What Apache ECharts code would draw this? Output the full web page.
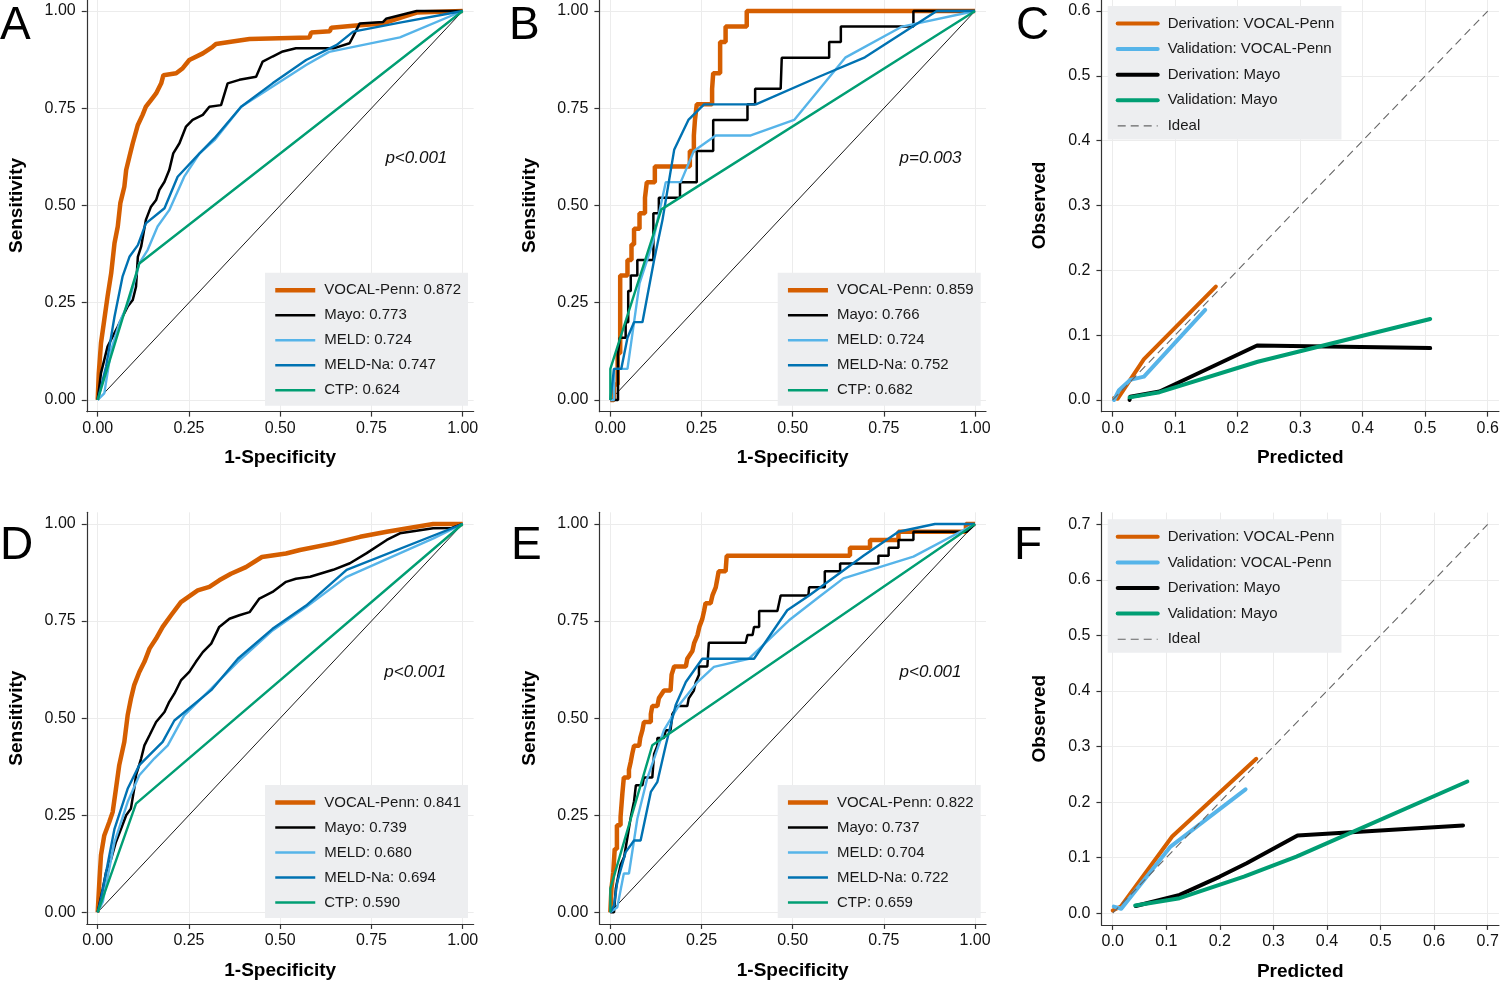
<!DOCTYPE html>
<html>
<head>
<meta charset="utf-8">
<script src="https://cdn.jsdelivr.net/npm/echarts@6/dist/echarts.min.js"></script>
<style>html,body{margin:0;padding:0;background:#fff}#c{width:1500px;height:981px}</style>
</head>
<body>
<div id="c"></div>
<script>
// ---------------- DATA ----------------
const rocTicks = [0, 0.25, 0.5, 0.75, 1];
const calTicksC = [0, 0.1, 0.2, 0.3, 0.4, 0.5, 0.6];
const calTicksF = [0, 0.1, 0.2, 0.3, 0.4, 0.5, 0.6, 0.7];
const panelLetters = ['A', 'B', 'C', 'D', 'E', 'F'];
const rocModels = ['VOCAL-Penn', 'Mayo', 'MELD', 'MELD-Na', 'CTP'];
const aucA = ['0.872', '0.773', '0.724', '0.747', '0.624'];
const aucB = ['0.859', '0.766', '0.724', '0.752', '0.682'];
const aucD = ['0.841', '0.739', '0.680', '0.694', '0.590'];
const aucE = ['0.822', '0.737', '0.704', '0.722', '0.659'];
const pTexts = ['p<0.001', 'p=0.003', 'p<0.001', 'p<0.001'];
const pPos = [[0.873, 0.622], [0.878, 0.621], [0.87, 0.618], [0.878, 0.618]];
const calNames = ['Derivation: VOCAL-Penn', 'Validation: VOCAL-Penn', 'Derivation: Mayo', 'Validation: Mayo', 'Ideal'];
const diagonal = [[0, 0], [1, 1]];

// Panel A
const A_vocal = [[0,0],[0.003,0.069],[0.009,0.146],[0.018,0.206],[0.027,0.266],[0.037,0.326],[0.046,0.403],[0.055,0.446],[0.062,0.506],[0.073,0.548],[0.078,0.591],[0.087,0.626],[0.096,0.66],[0.11,0.707],[0.123,0.733],[0.132,0.754],[0.146,0.771],[0.16,0.788],[0.174,0.814],[0.18,0.835],[0.215,0.84],[0.233,0.853],[0.251,0.874],[0.288,0.891],[0.315,0.908],[0.324,0.915],[0.365,0.921],[0.416,0.928],[0.58,0.932],[0.585,0.945],[0.636,0.948],[0.64,0.957],[0.70,0.962],[0.782,0.968],[0.837,0.985],[0.874,0.996],[1,1]];
const A_mayo = [[0,0],[0.009,0.069],[0.027,0.137],[0.041,0.163],[0.055,0.189],[0.068,0.214],[0.082,0.24],[0.096,0.257],[0.105,0.291],[0.11,0.368],[0.119,0.394],[0.132,0.463],[0.146,0.497],[0.16,0.514],[0.169,0.54],[0.183,0.561],[0.196,0.591],[0.207,0.634],[0.224,0.66],[0.242,0.703],[0.26,0.72],[0.288,0.733],[0.306,0.754],[0.338,0.758],[0.356,0.814],[0.388,0.823],[0.434,0.831],[0.452,0.87],[0.479,0.883],[0.507,0.896],[0.543,0.904],[0.646,0.904],[0.69,0.917],[0.718,0.968],[0.782,0.972],[0.79,0.98],[0.874,1],[1,1]];
const A_meld = [[0,0],[0.018,0.017],[0.037,0.129],[0.059,0.197],[0.087,0.257],[0.114,0.351],[0.137,0.386],[0.164,0.446],[0.196,0.488],[0.237,0.574],[0.279,0.634],[0.32,0.668],[0.393,0.754],[0.571,0.861],[0.634,0.895],[0.828,0.932],[1,1]];
const A_meldna = [[0,0],[0.023,0.086],[0.046,0.214],[0.068,0.317],[0.087,0.368],[0.11,0.398],[0.132,0.454],[0.183,0.493],[0.219,0.574],[0.279,0.634],[0.32,0.673],[0.393,0.754],[0.479,0.814],[0.571,0.874],[0.655,0.913],[0.7,0.947],[0.828,0.97],[1,1]];
const A_ctp = [[0,0],[0.114,0.351],[1,1]];

// Panel B
const B_vocal = [[0,0],[0.01,0],[0.01,0.04],[0.02,0.04],[0.02,0.12],[0.027,0.12],[0.027,0.32],[0.047,0.32],[0.047,0.36],[0.058,0.36],[0.058,0.40],[0.065,0.40],[0.065,0.44],[0.08,0.44],[0.08,0.48],[0.095,0.48],[0.095,0.52],[0.1,0.52],[0.1,0.56],[0.122,0.56],[0.122,0.60],[0.218,0.60],[0.218,0.64],[0.229,0.64],[0.229,0.68],[0.232,0.68],[0.232,0.72],[0.237,0.72],[0.237,0.76],[0.279,0.76],[0.279,0.80],[0.282,0.80],[0.282,0.84],[0.301,0.84],[0.301,0.92],[0.316,0.92],[0.316,0.96],[0.374,0.96],[0.374,1.0],[1,1]];
const B_mayo = [[0,0],[0.021,0],[0.021,0.12],[0.026,0.12],[0.026,0.16],[0.042,0.16],[0.042,0.2],[0.049,0.2],[0.049,0.28],[0.056,0.28],[0.056,0.32],[0.074,0.32],[0.074,0.36],[0.118,0.36],[0.118,0.48],[0.133,0.48],[0.133,0.52],[0.191,0.52],[0.191,0.56],[0.237,0.56],[0.237,0.64],[0.282,0.64],[0.282,0.72],[0.376,0.72],[0.376,0.76],[0.397,0.76],[0.397,0.8],[0.467,0.8],[0.47,0.88],[0.6,0.88],[0.6,0.92],[0.632,0.92],[0.632,0.96],[0.831,0.96],[0.831,1],[1,1]];
const B_meld = [[0,0],[0.01,0],[0.01,0.08],[0.047,0.08],[0.065,0.2],[0.08,0.3],[0.115,0.4],[0.152,0.56],[0.193,0.56],[0.229,0.64],[0.289,0.68],[0.385,0.68],[0.504,0.72],[0.644,0.88],[0.8,0.96],[1,1]];
const B_meldna = [[0,0],[0.01,0.08],[0.03,0.08],[0.047,0.16],[0.065,0.2],[0.088,0.2],[0.12,0.36],[0.143,0.463],[0.175,0.643],[0.214,0.72],[0.257,0.76],[0.399,0.76],[0.572,0.831],[0.698,0.881],[0.895,1],[1,1]];
const B_ctp = [[0,0],[0,0.08],[0.14,0.49],[1,1]];

// Panel D
const D_vocal = [[0,0],[0.005,0.087],[0.009,0.147],[0.018,0.198],[0.032,0.233],[0.041,0.258],[0.05,0.318],[0.059,0.379],[0.073,0.439],[0.082,0.507],[0.091,0.55],[0.1,0.585],[0.114,0.619],[0.128,0.645],[0.142,0.679],[0.16,0.705],[0.178,0.735],[0.201,0.765],[0.228,0.799],[0.274,0.829],[0.306,0.838],[0.333,0.855],[0.365,0.872],[0.406,0.889],[0.45,0.915],[0.516,0.924],[0.554,0.933],[0.645,0.95],[0.719,0.967],[0.792,0.98],[0.919,1],[1,1]];
const D_mayo = [[0,0],[0.014,0.061],[0.023,0.104],[0.037,0.138],[0.05,0.181],[0.064,0.215],[0.078,0.25],[0.091,0.267],[0.1,0.318],[0.105,0.353],[0.119,0.396],[0.128,0.43],[0.142,0.456],[0.16,0.49],[0.183,0.516],[0.196,0.542],[0.21,0.563],[0.228,0.597],[0.251,0.619],[0.269,0.645],[0.288,0.67],[0.311,0.692],[0.333,0.735],[0.361,0.756],[0.388,0.765],[0.416,0.773],[0.443,0.808],[0.479,0.825],[0.516,0.851],[0.543,0.859],[0.582,0.864],[0.645,0.882],[0.691,0.899],[0.737,0.925],[0.792,0.959],[0.828,0.976],[0.919,0.989],[0.97,0.99],[1,1]];
const D_meld = [[0,0],[0.014,0.027],[0.046,0.181],[0.082,0.284],[0.114,0.353],[0.155,0.396],[0.192,0.43],[0.237,0.507],[0.311,0.576],[0.384,0.645],[0.479,0.726],[0.571,0.786],[0.682,0.864],[0.92,0.963],[1,1]];
const D_meldna = [[0,0],[0.009,0.035],[0.046,0.215],[0.082,0.318],[0.114,0.379],[0.178,0.439],[0.21,0.494],[0.311,0.572],[0.384,0.653],[0.479,0.73],[0.571,0.79],[0.682,0.882],[1,1]];
const D_ctp = [[0,0],[0.105,0.28],[1,1]];

// Panel E
const E_vocal = [[0,0],[0.003,0],[0.003,0.061],[0.008,0.102],[0.012,0.163],[0.018,0.163],[0.018,0.224],[0.028,0.224],[0.028,0.245],[0.033,0.245],[0.033,0.306],[0.037,0.347],[0.051,0.347],[0.051,0.367],[0.056,0.367],[0.056,0.388],[0.06,0.408],[0.065,0.429],[0.079,0.429],[0.082,0.449],[0.088,0.469],[0.092,0.49],[0.111,0.49],[0.111,0.51],[0.115,0.531],[0.129,0.531],[0.133,0.551],[0.147,0.571],[0.165,0.571],[0.168,0.612],[0.175,0.633],[0.207,0.633],[0.211,0.653],[0.225,0.673],[0.23,0.694],[0.239,0.714],[0.244,0.735],[0.252,0.755],[0.257,0.776],[0.261,0.796],[0.275,0.796],[0.28,0.816],[0.289,0.837],[0.293,0.857],[0.297,0.878],[0.316,0.878],[0.319,0.918],[0.657,0.918],[0.657,0.939],[0.712,0.939],[0.712,0.959],[0.79,0.959],[0.79,0.98],[0.975,0.98],[0.975,1],[1,1]];
const E_mayo = [[0,0],[0.01,0],[0.015,0.061],[0.024,0.104],[0.028,0.122],[0.038,0.143],[0.047,0.194],[0.056,0.245],[0.065,0.286],[0.07,0.327],[0.088,0.327],[0.092,0.347],[0.115,0.347],[0.12,0.408],[0.129,0.429],[0.129,0.449],[0.147,0.449],[0.152,0.469],[0.165,0.469],[0.17,0.51],[0.184,0.531],[0.211,0.531],[0.215,0.551],[0.229,0.571],[0.234,0.592],[0.243,0.612],[0.243,0.633],[0.266,0.633],[0.27,0.694],[0.371,0.694],[0.376,0.714],[0.39,0.714],[0.394,0.735],[0.408,0.735],[0.408,0.776],[0.458,0.776],[0.467,0.816],[0.543,0.816],[0.545,0.837],[0.588,0.837],[0.588,0.878],[0.63,0.878],[0.63,0.898],[0.735,0.898],[0.735,0.918],[0.763,0.918],[0.763,0.939],[0.79,0.939],[0.79,0.959],[0.831,0.959],[0.831,0.98],[0.977,0.98],[1,1]];
const E_meld = [[0,0],[0.019,0.013],[0.037,0.1],[0.051,0.1],[0.074,0.241],[0.101,0.344],[0.147,0.469],[0.188,0.533],[0.239,0.593],[0.284,0.632],[0.38,0.653],[0.49,0.752],[0.572,0.812],[0.639,0.86],[0.831,0.916],[1,1]];
const E_meldna = [[0,0],[0.01,0.017],[0.019,0.078],[0.042,0.155],[0.065,0.185],[0.083,0.185],[0.111,0.31],[0.129,0.336],[0.152,0.43],[0.179,0.533],[0.207,0.593],[0.252,0.653],[0.394,0.653],[0.485,0.778],[0.545,0.816],[0.694,0.918],[0.79,0.98],[0.89,1],[1,1]];
const E_ctp = [[0,0],[0,0.061],[0.115,0.43],[1,1]];

// Panel C (calibration)
const C_derVocal = [[0.002,0.003],[0.008,0.002],[0.05,0.063],[0.165,0.175]];
const C_valVocal = [[0.002,0],[0.01,0.015],[0.028,0.031],[0.05,0.036],[0.148,0.139]];
const C_derMayo = [[0.027,0],[0.028,0.005],[0.075,0.013],[0.231,0.084],[0.508,0.08]];
const C_valMayo = [[0.027,0.004],[0.075,0.012],[0.232,0.059],[0.508,0.125]];
const C_ideal = [[0,0],[0.6,0.6]];

// Panel F (calibration)
const F_derVocal = [[0,0.005],[0.015,0.012],[0.111,0.138],[0.268,0.278]];
const F_valVocal = [[0.002,0.012],[0.016,0.008],[0.108,0.12],[0.248,0.223]];
const F_derMayo = [[0.043,0.013],[0.125,0.033],[0.2,0.066],[0.25,0.09],[0.345,0.14],[0.654,0.158]];
const F_valMayo = [[0.042,0.014],[0.125,0.027],[0.245,0.066],[0.343,0.102],[0.662,0.237]];
const F_ideal = [[0,0],[0.7,0.7]];

// ---------------- STYLE / LAYOUT ----------------
const FONT = "'Liberation Sans', Arial, Helvetica, sans-serif";
const rocColors = ['#D55E00', '#000000', '#56B4E9', '#0072B2', '#009E73'];
const rocWidths = [4.5, 2.5, 2.4, 2.4, 2.4];
const calColors = ['#D55E00', '#56B4E9', '#000000', '#009E73'];
const axisColor = '#333333';

const grids = [
  {left: 86.75, top: -0.67, width: 386.9, height: 412.3},
  {left: 599.4, top: -0.67, width: 386.6, height: 412.3},
  {left: 1101.45, top: -0.65, width: 397.5, height: 412.3},
  {left: 86.75, top: 512.35, width: 386.9, height: 411.6},
  {left: 599.4, top: 512.35, width: 386.6, height: 411.6},
  {left: 1101.45, top: 512.6, width: 397.5, height: 412.3}
].map(g => Object.assign({outerBoundsMode: 'none', containLabel: false}, g));

function valueAxis(gi, min, max, ticks, digits, name, isY, nameGap) {
  return {
    type: 'value', gridIndex: gi, min: min, max: max,
    axisLine: {show: true, onZero: false, lineStyle: {color: axisColor, width: 1.2}},
    axisTick: {show: true, customValues: ticks, length: 5, inside: false, lineStyle: {color: axisColor, width: 1.2}},
    axisLabel: {show: true, customValues: ticks, formatter: v => Number(v).toFixed(digits),
      fontSize: 16, color: '#111', fontFamily: FONT, margin: isY ? 11 : 9},
    splitLine: {show: true, lineStyle: {color: '#ececec', width: 1}},
    name: name, nameLocation: 'middle', nameGap: nameGap, nameRotate: isY ? 90 : 0,
    nameTextStyle: {fontSize: 19, fontWeight: 'bold', color: '#000', fontFamily: FONT}
  };
}

const xAxes = [], yAxes = [];
[0, 1, 3, 4].forEach(gi => {
  xAxes[gi] = valueAxis(gi, -0.03, 1.03, rocTicks, 2, '1-Specificity', false, 37);
  yAxes[gi] = valueAxis(gi, -0.03, 1.03, rocTicks, 2, 'Sensitivity', true, 60);
});
xAxes[2] = valueAxis(2, -0.018, 0.618, calTicksC, 1, 'Predicted', false, 37);
yAxes[2] = valueAxis(2, -0.018, 0.618, calTicksC, 1, 'Observed', true, 52);
xAxes[5] = valueAxis(5, -0.021, 0.721, calTicksF, 1, 'Predicted', false, 37);
yAxes[5] = valueAxis(5, -0.021, 0.721, calTicksF, 1, 'Observed', true, 52);

function ln(name, data, gi, color, width, extra) {
  return Object.assign({
    type: 'line', name: name, data: data, xAxisIndex: gi, yAxisIndex: gi,
    symbol: 'none', showSymbol: false, color: color,
    lineStyle: {color: color, width: width}, silent: true, animation: false
  }, extra || {});
}

function makeLegend(names, pos, gap, pad, textPad) {
  return {
    data: names, orient: 'vertical', left: pos[0], top: pos[1],
    itemWidth: 40, itemHeight: 14, itemGap: gap, padding: pad,
    backgroundColor: '#edeef0', borderRadius: 0, selectedMode: false,
    textStyle: {fontSize: 15, color: '#1a1a1a', fontFamily: FONT, padding: [0, 0, 0, textPad]},
    lineStyle: {width: 'inherit'}, itemStyle: {opacity: 0}
  };
}

const series = [];
const rocPanels = [
  {gi: 0, auc: aucA, curves: [A_vocal, A_mayo, A_meld, A_meldna, A_ctp]},
  {gi: 1, auc: aucB, curves: [B_vocal, B_mayo, B_meld, B_meldna, B_ctp]},
  {gi: 3, auc: aucD, curves: [D_vocal, D_mayo, D_meld, D_meldna, D_ctp]},
  {gi: 4, auc: aucE, curves: [E_vocal, E_mayo, E_meld, E_meldna, E_ctp]}
];
const legends = [];
const legendPos = {0: [265, 272.7], 1: [777.7, 272.7], 3: [265, 785], 4: [777.7, 785], 2: [1107.7, 6], 5: [1107.7, 519.3]};

rocPanels.forEach((p, k) => {
  series.push(ln('diag' + p.gi, diagonal, p.gi, '#1a1a1a', 1));
  const names = rocModels.map((m, i) => m + ': ' + p.auc[i]);
  p.curves.forEach((c, i) => series.push(ln(names[i], c, p.gi, rocColors[i], rocWidths[i])));
  series.push({
    type: 'scatter', xAxisIndex: p.gi, yAxisIndex: p.gi, data: [pPos[k]], symbolSize: 0.01,
    itemStyle: {color: '#111', opacity: 1}, silent: true, animation: false,
    label: {show: true, position: 'inside', formatter: pTexts[k], fontSize: 17, fontStyle: 'italic', color: '#111', fontFamily: FONT}
  });
  legends.push(makeLegend(names, legendPos[p.gi], 10, [10, 7, 8, 8], 4));
});

const calPanels = [
  {gi: 2, curves: [C_derVocal, C_valVocal, C_derMayo, C_valMayo], ideal: C_ideal},
  {gi: 5, curves: [F_derVocal, F_valVocal, F_derMayo, F_valMayo], ideal: F_ideal}
];
calPanels.forEach(p => {
  p.curves.forEach((c, i) => series.push(ln(calNames[i], c, p.gi, calColors[i], 4, {lineStyle: {color: calColors[i], width: 4, cap: 'round', join: 'round'}})));
  series.push(ln(calNames[4], p.ideal, p.gi, '#666666', 1.1, {lineStyle: {color: '#666666', width: 1.1, type: [8, 5]}}));
  legends.push(makeLegend(calNames, legendPos[p.gi], 10.6, [10, 7, 6, 8], 5));
});

const letterPos = [[0, 26.7], [509, 26.7], [1016, 26.7], [0, 546], [511, 546], [1014, 546]];
const graphics = panelLetters.map((t, i) => ({
  type: 'text', x: letterPos[i][0], y: letterPos[i][1], silent: true,
  style: {text: t, fontSize: 46, fontFamily: FONT, fill: '#000', verticalAlign: 'middle', align: 'left'}
}));

const chart = echarts.init(document.getElementById('c'), null, {renderer: 'canvas'});
chart.setOption({
  backgroundColor: '#ffffff',
  animation: false,
  grid: grids,
  xAxis: xAxes,
  yAxis: yAxes,
  legend: legends,
  series: series,
  graphic: graphics
});
</script>
</body>
</html>
